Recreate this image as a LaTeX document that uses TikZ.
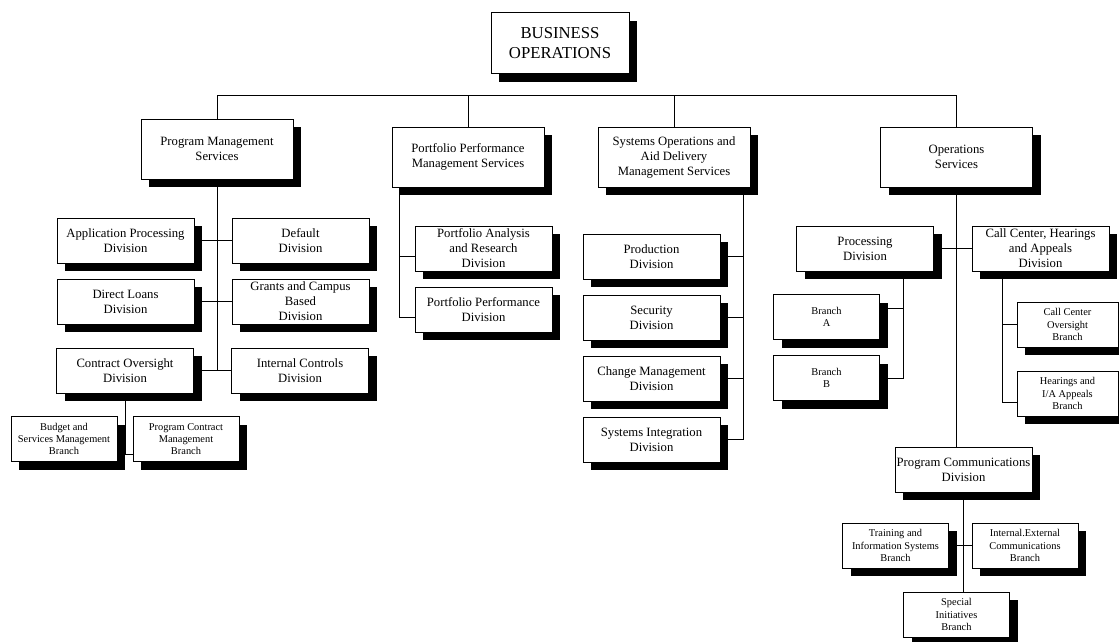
\documentclass[tikz,border=0pt]{standalone}
\usepackage{fontspec}
\setmainfont{Liberation Serif}
\usetikzlibrary{shadows}

\begin{document}
\begin{tikzpicture}[x=1pt, y=-1pt, line width=0.7pt, node distance=175pt,
  every node/.style={draw, fill=white, align=center, inner sep=1pt, drop shadow={shadow xshift=8pt, shadow yshift=-8pt, fill=black, opacity=1}, font=\fontsize{12.7}{15}\selectfont},
  headbox/.style={minimum width=138pt, minimum height=61pt, font=\fontsize{16.7}{20}\selectfont},
  svcbox/.style={minimum width=152pt, minimum height=60pt},
  divbox/.style={minimum width=137pt, minimum height=45pt},
  brbox/.style={minimum width=106pt, minimum height=45pt, font=\fontsize{10.4}{12.4}\selectfont}]
\path[use as bounding box, fill=white] (0,0) rectangle (1119,641);

% top level
\node (bo) [headbox] at (560,43) {BUSINESS\\OPERATIONS};
\node (pms) [svcbox] at (217,149) {Program Management\\Services};
\node (ppms) [svcbox] at (468,157) {Portfolio Performance\\Management Services};
\node (soad) [svcbox] at (674,157) {Systems Operations and\\Aid Delivery\\Management Services};
\node (ops) [svcbox] at (956.5,157) {Operations\\Services};

% program management
\node (apd) [divbox] at (125.5,240.5) {Application Processing\\Division};
\node (dflt) [divbox, right of=apd] {Default\\Division};
\node (dl) [divbox] at (125.5,301.5) {Direct Loans\\Division};
\node (gcb) [divbox, right of=dl] {Grants and Campus\\Based\\Division};
\node (cod) [divbox] at (125,370.5) {Contract Oversight\\Division};
\node (icd) [divbox, right of=cod] {Internal Controls\\Division};
\node (bsm) [brbox] at (64,439) {Budget and\\Services Management\\Branch};
\node (pcm) [brbox, right of=bsm, node distance=122pt] {Program Contract\\Management\\Branch};

% portfolio performance
\node (par) [divbox] at (483.5,248.5) {Portfolio Analysis\\and Research\\Division};
\node (ppd) [divbox] at (483.5,309.5) {Portfolio Performance\\Division};

% systems operations
\node (prd) [divbox] at (651.5,256.5) {Production\\Division};
\node (sec) [divbox, below of=prd, node distance=61pt] {Security\\Division};
\node (chg) [divbox, below of=sec, node distance=61pt] {Change Management\\Division};
\node (sid) [divbox, below of=chg, node distance=61pt] {Systems Integration\\Division};

% operations
\node (proc) [divbox] at (865,248.5) {Processing\\Division};
\node (cch) [divbox, right of=proc, node distance=175.5pt] {Call Center, Hearings\\and Appeals\\Division};
\node (bra) [brbox] at (826.5,317) {Branch\\A};
\node (brb) [brbox, below of=bra, node distance=61pt] {Branch\\B};
\node (cco) [brbox, minimum width=101pt] at (1067.5,324.5) {Call Center\\Oversight\\Branch};
\node (hab) [brbox, minimum width=101pt, below of=cco, node distance=69pt] {Hearings and\\I/A Appeals\\Branch};
\node (pcd) [divbox] at (963.5,469.5) {Program Communications\\Division};
\node (tis) [brbox] at (895.5,545.5) {Training and\\Information Systems\\Branch};
\node (iec) [brbox, right of=tis, node distance=129.5pt] {Internal.External\\Communications\\Branch};
\node (sib) [brbox] at (956.5,614.5) {Special\\Initiatives\\Branch};

% bus
\draw (pms.north) -- ++(0,-23) -| (ops.north);
\draw (ppms.north) -- ++(0,-31);
\draw (soad.north) -- ++(0,-31);
% program management lines
\draw (pms.south) -- (pms.south |- cod.east);
\draw (apd.east) -- (dflt.west);
\draw (dl.east) -- (gcb.west);
\draw (cod.east) -- (icd.west);
\draw (cod.south) |- ([yshift=-15pt]pcm.west);
% portfolio lines
\coordinate (pfline) at ([xshift=8pt]ppms.south west);
\draw (pfline) |- ([yshift=-7.5pt]ppd.west);
\draw ([yshift=-7.5pt]par.west) -- ([yshift=-7.5pt]par.west -| pfline);
% systems lines
\coordinate (soline) at ([xshift=69pt]soad.south);
\draw (sid.east) -| (soline);
\draw (prd.east) -- (prd.east -| soline);
\draw (sec.east) -- (sec.east -| soline);
\draw (chg.east) -- (chg.east -| soline);
% operations lines
\draw (ops.south) -- (ops.south |- pcd.north);
\draw (proc.east) -- (cch.west);
\coordinate (prline) at ([xshift=38pt]proc.south);
\draw (prline) |- (brb.east);
\draw ([yshift=9pt]bra.east) -- ([yshift=9pt]bra.east -| prline);
\coordinate (ccline) at ([xshift=-38.5pt]cch.south);
\draw (ccline) |- ([yshift=-8.5pt]hab.west);
\draw (cco.west) -- (cco.west -| ccline);
\draw (pcd.south) -- (pcd.south |- sib.north);
\draw (tis.east) -- (iec.west);
\end{tikzpicture}
\end{document}
